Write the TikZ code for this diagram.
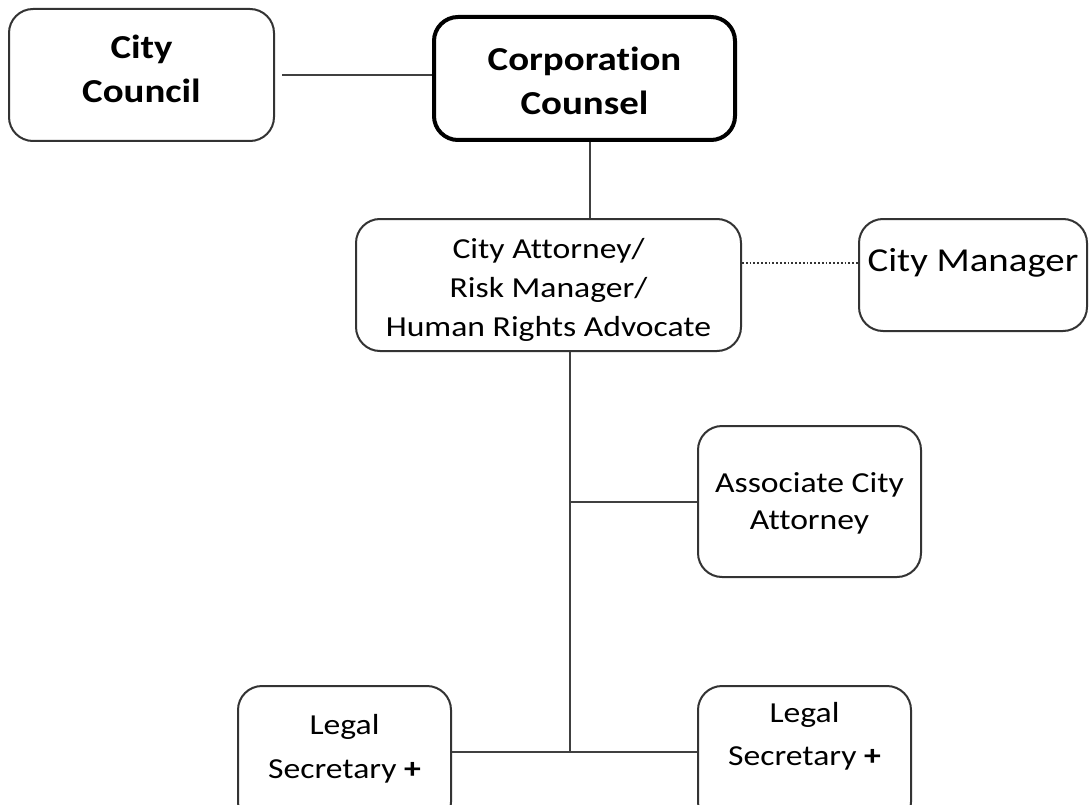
\documentclass[tikz,border=0pt]{standalone}
\usepackage{fontspec}
\setmainfont{Carlito}[FakeStretch=1.16, Ligatures=NoCommon]
\begin{document}
\begin{tikzpicture}[x=1pt,y=-1pt,
  box/.style={draw=black!80, line width=2pt, rounded corners=24pt, fill=white, inner sep=0pt},
  bigbox/.style={box, line width=4pt, draw=black},
  lbl/.style={align=center, inner sep=0pt, text=black},
  small/.style={font=\fontsize{29}{39}\selectfont},
  big/.style={font=\fontsize{33.5}{43}\selectfont},
  bigb/.style={font=\fontsize{33.5}{44}\selectfont\bfseries},
  link/.style={draw=black!75, line width=2pt},
  dotlink/.style={draw=black!80, line width=1.8pt, dotted}
]
\useasboundingbox (0,0) rectangle (1089,805);
\clip (0,0) rectangle (1089,805);

\node[box, minimum width=265pt, minimum height=132pt,
  label={[lbl, bigb, yshift=6.5pt]center:{City\\Council}}] (council) at (141.5,75) {};
\node[bigbox, minimum width=301pt, minimum height=123pt,
  label={[lbl, bigb, yshift=-2pt]center:{Corporation\\Counsel}}] (corp) at (584.5,78.5) {};
\node[box, minimum width=385pt, minimum height=132pt,
  label={[lbl, small, yshift=-4.5pt]center:{City Attorney/\\Risk Manager/\\Human Rights Advocate}}] (ca) at (548.5,285) {};
\node[box, minimum width=228pt, minimum height=112pt,
  label={[lbl, big, yshift=12pt]center:{City Manager}}] (cm) at (973,275) {};
\node[box, minimum width=223pt, minimum height=151pt,
  label={[lbl, font=\fontsize{29}{37}\selectfont, yshift=-2pt]center:{Associate City\\Attorney}}] (assoc) at (809.5,501.5) {};
\node[box, minimum width=213pt, minimum height=140pt,
  label={[lbl, font=\fontsize{29}{44}\selectfont, yshift=7pt]center:{Legal\\Secretary \textbf{+}}}] (ls1) at (344.5,756) {};
\node[box, minimum width=213pt, minimum height=140pt,
  label={[lbl, font=\fontsize{29}{43}\selectfont, yshift=19.5pt]center:{Legal\\Secretary \textbf{+}}}] (ls2) at (804.5,756) {};

\coordinate (top) at ([xshift=21.5pt]ca.south);
\coordinate (j) at (570,752);

\draw[link, shorten <=7pt] (council.east) -- (council.east -| corp.west);
\draw[link] ([xshift=5.5pt]corp.south) -- ([xshift=5.5pt]corp.south |- ca.north);
\draw[dotlink] ([yshift=22pt]ca.east) -- ([yshift=22pt]ca.east -| cm.west);
\draw[link] (top) -- (j);
\draw[link] (assoc.west -| top) -- (assoc.west);
\draw[link] (ls1.east |- j) -- (ls2.west |- j);
\end{tikzpicture}
\end{document}
